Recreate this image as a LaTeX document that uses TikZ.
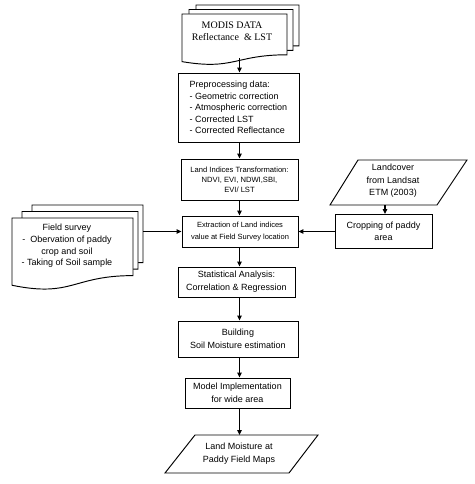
\documentclass[tikz,border=0pt]{standalone}
\usepackage{fontspec}
\setmainfont{Liberation Sans}
\newfontfamily\serifmod{Liberation Serif}
\usetikzlibrary{arrows.meta,calc}
\newcommand\docsheet[4]{%
 \pgfmathsetmacro\dxa{#1+#3}\pgfmathsetmacro\dxm{#1+0.5*#3}%
 \pgfmathsetmacro\dyr{#2+0.8*#4}\pgfmathsetmacro\dyl{#2+0.934*#4}\pgfmathsetmacro\dyc{#2+1.107*#4}%
 \draw[sheet] (#1,#2) -- (\dxa,#2) -- (\dxa,\dyr) .. controls (\dxm,\dyr) and (\dxm,\dyc) .. (#1,\dyl) -- cycle;}
\begin{document}
\begin{tikzpicture}[x=1pt,y=-1pt,
 box/.style={draw=black,line width=0.95pt,fill=white,inner sep=0pt,align=center,font=\fontsize{9}{12}\selectfont},
 sheet/.style={draw=black,line width=0.95pt,fill=white},
 para/.style={draw=black,line width=0.95pt,fill=white},
 arr/.style={line width=1.3pt,-{Triangle[length=5pt,width=4.5pt]}},
 lbl/.style={inner sep=0pt,align=center,font=\fontsize{9}{12}\selectfont}]
\useasboundingbox (0,0) rectangle (474,484);
\fill[white] (0,0) rectangle (474,484);
\coordinate (colx) at (239.5,0);

% MODIS multi-document
\docsheet{196}{5}{103}{51}
\docsheet{189}{9.5}{104}{51}
\docsheet{182}{14}{105}{51}
\node[lbl,font=\serifmod\fontsize{10}{12}\selectfont] (modis) at (232,31) {MODIS DATA\\Reflectance~ \& LST};
\coordinate (modbot) at (239.5,58);

% Field survey multi-document
\docsheet{32}{205}{111}{72}
\docsheet{22}{211.5}{116}{72}
\docsheet{12}{218}{121}{72}
\node[lbl,font=\fontsize{9}{11.7}\selectfont] (fs) at (67,246) {Field survey\\ -~ Obervation of paddy\\crop and soil\\- Taking of Soil sample};
\coordinate (fsout) at (143,231.5);

% main column boxes
\node[box,align=left,minimum width=121pt,minimum height=69pt,font=\fontsize{9}{11.4}\selectfont] (pre) at (238.5,107.5)
 {Preprocessing data:\\- Geometric correction\\- Atmospheric correction\\- Corrected LST\\- Corrected Reflectance};
\node[box,minimum width=117pt,minimum height=41pt,font=\fontsize{7.6}{10}\selectfont] (lit) at (239.5,179.5)
 {Land Indices Transformation:\\NDVI, EVI, NDWI,SBI,\\EVI/ LST};
\node[box,minimum width=116pt,minimum height=31pt,font=\fontsize{7.5}{12.5}\selectfont] (ext) at (240,231.5)
 {Extraction of Land indices\\value at Field Survey location};
\node[box,minimum width=117pt,minimum height=30pt,font=\fontsize{9}{13}\selectfont] (stat) at (236.5,282)
 {Statistical Analysis:\\Correlation \& Regression};
\node[box,minimum width=120pt,minimum height=36pt,font=\fontsize{9}{12.5}\selectfont] (bld) at (238,339)
 {Building\\Soil Moisture estimation};
\node[box,minimum width=105pt,minimum height=30pt,font=\fontsize{9}{13}\selectfont] (mod) at (237.5,393)
 {Model Implementation\\for wide area};

% right branch
\draw[para] (358,160) -- (467,160) -- (437,205) -- (330,205) -- cycle;
\node[lbl,font=\fontsize{9}{12.5}\selectfont] (landcover) at (393,181) {Landcover\\from Landsat\\ETM (2003)};
\coordinate (lcbot) at (385,205);
\node[box,minimum width=97pt,minimum height=34pt,font=\fontsize{9}{11.5}\selectfont] (crop) at (383.5,231.5)
 {Cropping of paddy\\area};

% output parallelogram
\draw[para] (195,435) -- (318,435) -- (289,473) -- (165,473) -- cycle;
\node[lbl,font=\fontsize{9}{13.3}\selectfont] (lm) at (239,453.5) {Land Moisture at\\Paddy Field Maps};
\coordinate (lmtop) at (239.5,435);

% connectors
\draw[arr] (modbot) -- (pre.north -| colx);
\draw[arr] (pre.south -| colx) -- (lit.north -| colx);
\draw[arr] (lit.south -| colx) -- (ext.north -| colx);
\draw[arr] (ext.south -| colx) -- (stat.north -| colx);
\draw[arr] (stat.south -| colx) -- (bld.north -| colx);
\draw[arr] (bld.south -| colx) -- (mod.north -| colx);
\draw[arr] (mod.south -| colx) -- (lmtop);
\draw[arr] (fsout) -- (ext.west);
\draw[arr] (crop.west) -- (ext.east);
\draw[arr] (lcbot) -- (crop.north -| lcbot);
\end{tikzpicture}
\end{document}
